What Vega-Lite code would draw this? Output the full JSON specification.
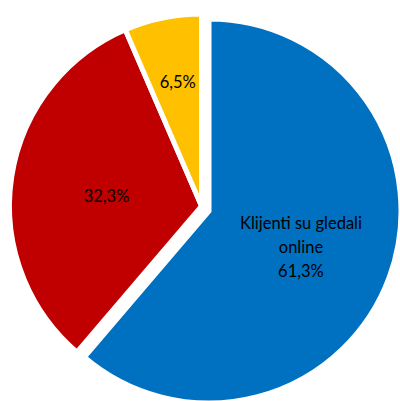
{
  "$schema": "https://vega.github.io/schema/vega-lite/v6.json",
  "width": 384,
  "height": 384,
  "autosize": "none",
  "padding": {"left": 9.5, "top": 14, "right": 6.5, "bottom": 3},
  "background": "white",
  "config": {"view": {"stroke": null}},
  "data": {
    "values": [
      {"cat": "Klijenti su gledali online", "value": 61.3, "order": 1, "label": "Klijenti su gledali\nonline\n61,3%"},
      {"cat": "Kategorija 2", "value": 32.3, "order": 2, "label": "32,3%"},
      {"cat": "Kategorija 3", "value": 6.5, "order": 3, "label": "6,5%"}
    ]
  },
  "encoding": {
    "theta": {"field": "value", "type": "quantitative", "stack": true},
    "order": {"field": "order", "type": "quantitative"},
    "color": {
      "field": "cat",
      "type": "nominal",
      "scale": {
        "domain": ["Klijenti su gledali online", "Kategorija 2", "Kategorija 3"],
        "range": ["#0070C0", "#C00000", "#FFC000"]
      },
      "legend": null
    }
  },
  "layer": [
    {
      "mark": {"type": "arc", "stroke": "white", "strokeWidth": 5},
      "encoding": {
        "opacity": {"condition": {"test": "datum.order === 1", "value": 0}, "value": 1}
      }
    },
    {
      "mark": {"type": "arc", "stroke": "white", "strokeWidth": 5, "xOffset": 7.5, "yOffset": 5},
      "encoding": {
        "opacity": {"condition": {"test": "datum.order === 1", "value": 1}, "value": 0}
      }
    },
    {
      "mark": {"type": "text", "radius": 127, "font": "Lato", "fontSize": 16.5, "dx": 2, "dy": 1},
      "encoding": {
        "color": {"value": "black"},
        "text": {"condition": {"test": "datum.order === 3", "field": "label"}, "value": ""}
      }
    },
    {
      "mark": {"type": "text", "radius": 96, "font": "Lato", "fontSize": 16.5, "dy": 5},
      "encoding": {
        "color": {"value": "black"},
        "text": {"condition": {"test": "datum.order === 2", "field": "label"}, "value": ""}
      }
    },
    {
      "mark": {"type": "text", "radius": 98, "font": "Lato", "fontSize": 16.5, "lineBreak": "\n", "lineHeight": 24, "xOffset": 7.5, "yOffset": 5, "dy": -21},
      "encoding": {
        "color": {"value": "black"},
        "text": {"condition": {"test": "datum.order === 1", "field": "label"}, "value": ""}
      }
    }
  ]
}
